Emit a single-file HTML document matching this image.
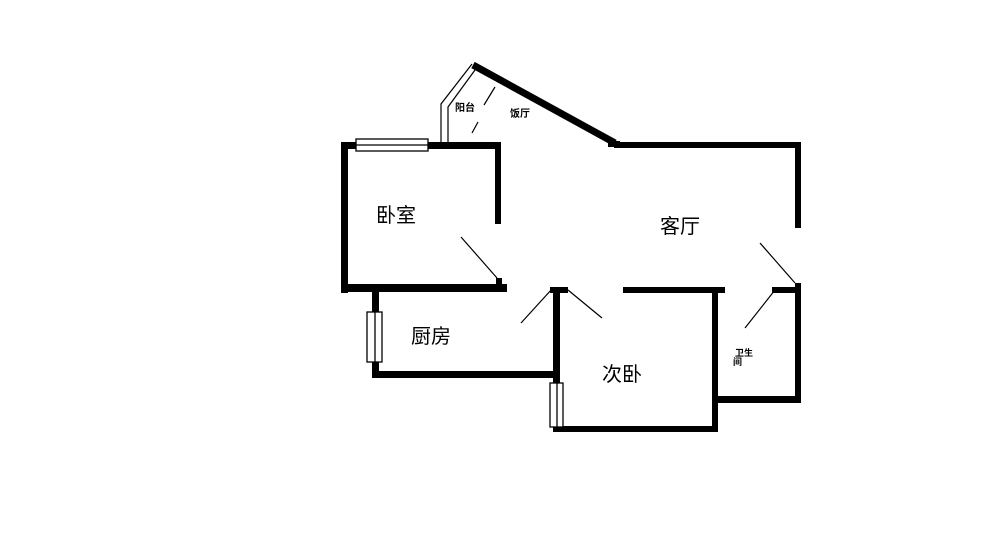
<!DOCTYPE html>
<html><head><meta charset="utf-8"><style>
body{margin:0;background:#fff}
svg{display:block}
text{font-family:"Liberation Sans","Noto Sans CJK SC",sans-serif;fill:#000}
</style></head><body>
<svg width="1000" height="556" viewBox="0 0 1000 556" xmlns="http://www.w3.org/2000/svg">
<rect width="1000" height="556" fill="#fff"/>
<g fill="#000">
<!-- bedroom -->
<rect x="341" y="142" width="160" height="7"/>
<rect x="341" y="142" width="7" height="151"/>
<rect x="495" y="142" width="6" height="82"/>
<rect x="341" y="284" width="166" height="8"/>
<rect x="496" y="278" width="6" height="7"/>
<!-- living top & right -->
<rect x="614" y="142" width="187" height="6"/>
<rect x="795" y="142" width="6" height="86"/>
<!-- kitchen -->
<rect x="372" y="290" width="7" height="24"/>
<rect x="372" y="360" width="7" height="18"/>
<rect x="372" y="371" width="186" height="7"/>
<!-- second bedroom -->
<rect x="550" y="287" width="18" height="6"/>
<rect x="553" y="287" width="7" height="96"/>
<rect x="623" y="287" width="102" height="6"/>
<rect x="712" y="287" width="6" height="145"/>
<rect x="553" y="426" width="165" height="6"/>
<!-- bathroom -->
<rect x="772" y="287" width="29" height="6"/>
<rect x="795" y="283" width="6" height="120"/>
<rect x="715" y="396" width="86" height="7"/>
</g>
<!-- diagonal wall -->
<line x1="473" y1="65" x2="615" y2="143" stroke="#000" stroke-width="7"/>
<rect x="608" y="141" width="12" height="6"/>
<!-- windows -->
<g fill="#fff" stroke="#000" stroke-width="1.3">
<rect x="356" y="139" width="72" height="12"/>
<line x1="356" y1="145" x2="428" y2="145"/>
<rect x="367" y="312" width="15" height="50"/>
<line x1="375" y1="312" x2="375" y2="362"/>
<rect x="550" y="383" width="13" height="44"/>
<line x1="557" y1="383" x2="557" y2="427"/>
</g>
<!-- balcony lines -->
<g fill="none" stroke="#000" stroke-width="1.2">
<polyline points="441,142 441,104 472,64"/>
<polyline points="448,142 448,107 475,70"/>
<line x1="495" y1="87" x2="484" y2="105"/>
<line x1="478" y1="122" x2="472" y2="133"/>
<!-- door swings -->
<line x1="461" y1="237" x2="497" y2="278"/>
<line x1="521" y1="323" x2="552" y2="289"/>
<line x1="602" y1="318" x2="568" y2="290"/>
<line x1="745" y1="328" x2="775" y2="290"/>
<line x1="760" y1="243" x2="795" y2="283"/>
</g>
<text x="376" y="222" font-size="20">卧室</text>
<text x="660" y="233" font-size="20">客厅</text>
<text x="411" y="343" font-size="20">厨房</text>
<text x="602" y="381" font-size="20">次卧</text>
<text x="455" y="111" font-size="10" font-weight="bold">阳台</text>
<text x="510" y="117" font-size="10" font-weight="bold">饭厅</text>
<text x="735" y="356" font-size="9" font-weight="bold">卫生</text>
<text x="733" y="365" font-size="9" font-weight="bold">间</text>
</svg>
</body></html>
